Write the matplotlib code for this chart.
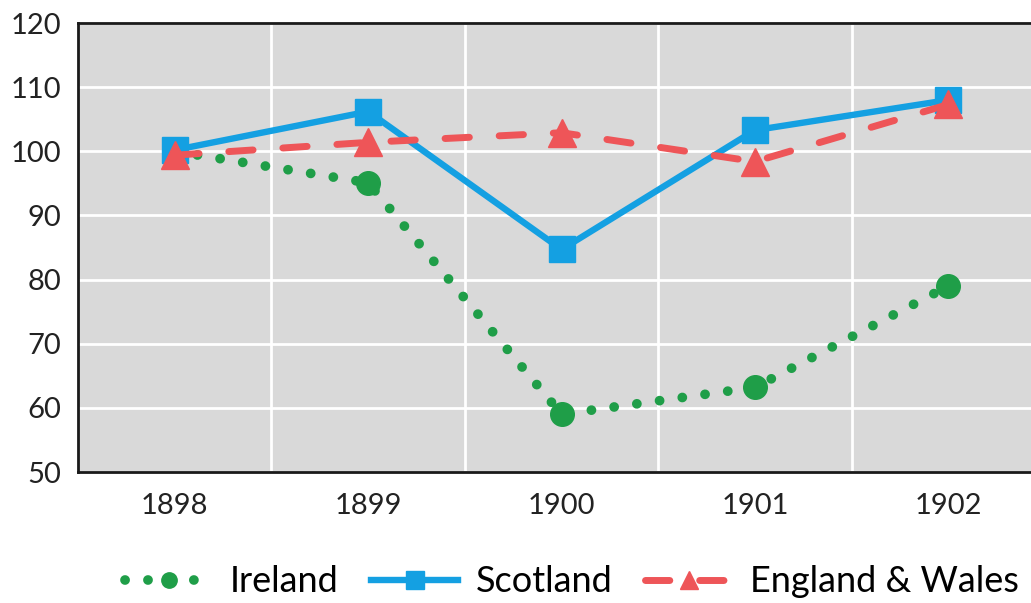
import matplotlib.pyplot as plt
import numpy as np

plt.rcParams['font.family'] = ['Lato', 'DejaVu Sans']

years = ['1898', '1899', '1900', '1901', '1902']
ireland = [100, 95.1, 59.0, 63.2, 79.0]
scotland = [100.2, 106.2, 84.7, 103.3, 108.0]
england_wales = [99.4, 101.4, 102.9, 98.4, 107.3]

green = '#1f9e48'
blue = '#14a0e2'
red = '#ee5558'

fig = plt.figure(figsize=(10.31, 6.03), dpi=100)
ax = fig.add_axes([0.0757, 0.2172, 0.938, 0.7446])
ax.set_facecolor('#d9d9d9')

x = np.arange(len(years))

ax.plot(x, ireland, color=green, lw=7, linestyle=(0, (0.01, 2.35)),
        dash_capstyle='round', marker='o', markersize=17, label='Ireland', zorder=3)
ax.plot(x, scotland, color=blue, lw=4.6, marker='s', markersize=19,
        label='Scotland', zorder=4)
ax.plot(x, england_wales, color=red, lw=5, linestyle=(0, (3.5, 4.3)),
        dash_capstyle='round', marker='^', markersize=20,
        label='England & Wales', zorder=5)

ax.set_xlim(-0.5, 4.5)
ax.set_ylim(50, 120)
ax.set_yticks(range(50, 121, 10))
ax.set_xticks(x)
ax.set_xticklabels(years)
ax.set_xticks(np.arange(0.5, 4.5, 1), minor=True)
ax.grid(True, which='major', axis='y', color='white', lw=2)
ax.grid(True, which='minor', axis='x', color='white', lw=2)
ax.set_axisbelow(True)
ax.tick_params(which='both', length=0, labelsize=21, colors='#222222')
ax.tick_params(axis='x', pad=15)
ax.tick_params(axis='y', pad=12)

for s in ['left', 'top', 'bottom']:
    ax.spines[s].set_linewidth(2)
    ax.spines[s].set_color('#1a1a1a')
ax.spines['right'].set_visible(False)

fig.legend(loc='center', bbox_to_anchor=(0.555, 0.035), ncol=3, frameon=False,
           fontsize=26, handlelength=2.4, columnspacing=0.9, handletextpad=0.5,
           markerscale=0.65)

fig.savefig('out.png', dpi=100)
